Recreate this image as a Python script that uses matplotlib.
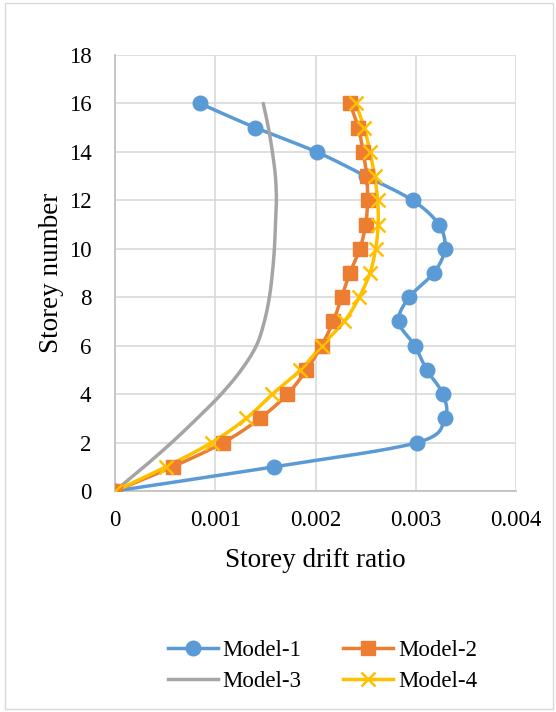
import numpy as np
import matplotlib.pyplot as plt
from matplotlib.lines import Line2D
from matplotlib.patches import Rectangle

storey = [0, 1, 2, 3, 4, 5, 6, 7, 8, 9, 10, 11, 12, 13, 14, 15, 16]

model1 = [0, 0.001585, 0.003014, 0.00329, 0.00327, 0.00311, 0.00299, 0.00283,
          0.002935, 0.00318, 0.00329, 0.00323, 0.002968, 0.0025, 0.00201,
          0.0014, 0.000847]
model2 = [0, 0.000575, 0.00108, 0.001446, 0.00172, 0.00191, 0.00206, 0.002177,
          0.00226, 0.002343, 0.002443, 0.0025, 0.00252, 0.00251, 0.002476,
          0.002426, 0.002343]
model3 = [0, 0.00029, 0.000565, 0.00082, 0.00106, 0.00126, 0.00141, 0.00149,
          0.00154, 0.00157, 0.00159, 0.0016, 0.00161, 0.0016, 0.00157,
          0.00153, 0.001479]
model4 = [0, 0.000508, 0.000964, 0.00131, 0.00157, 0.00185, 0.00206, 0.002287,
          0.002436, 0.002543, 0.0026, 0.002625, 0.00262, 0.00259, 0.002543,
          0.002486, 0.0024]

x_ticks = [0, 0.001, 0.002, 0.003, 0.004]
x_tick_labels = ["0", "0.001", "0.002", "0.003", "0.004"]
y_ticks = [0, 2, 4, 6, 8, 10, 12, 14, 16, 18]

names = ["Model-1", "Model-2", "Model-3", "Model-4"]
colors = ["#5B9BD5", "#ED7D31", "#A5A5A5", "#FFC000"]
markers = ["o", "s", None, "x"]

plt.rcParams['font.family'] = ['Liberation Serif', 'DejaVu Serif']


def smooth(xs, ys, n=30):
    # excel-like smoothed line: cubic bezier through points, catmull-rom tangents
    p = np.column_stack([xs, ys]).astype(float)
    m = len(p)
    out = []
    for i in range(m - 1):
        p0 = p[i - 1] if i > 0 else p[i]
        p1 = p[i]
        p2 = p[i + 1]
        p3 = p[i + 2] if i + 2 < m else p[i + 1]
        c1 = p1 + (p2 - p0) / 6.0
        c2 = p2 - (p3 - p1) / 6.0
        t = np.linspace(0, 1, n)[:, None]
        seg = ((1 - t) ** 3) * p1 + 3 * ((1 - t) ** 2) * t * c1 + \
              3 * (1 - t) * t ** 2 * c2 + t ** 3 * p2
        out.append(seg if i == 0 else seg[1:])
    out = np.vstack(out)
    return out[:, 0], out[:, 1]


SCALE = 4500  # x units -> roughly the same pixel scale as storeys
LW = 2.5

fig = plt.figure(figsize=(5.56, 7.12), dpi=100)
fig.patches.append(Rectangle((5 / 556, 3 / 712), 548 / 556, 706 / 712,
                             transform=fig.transFigure, fill=False,
                             edgecolor="#d9d9d9", linewidth=1))
ax = fig.add_axes([115 / 556, 1 - 491 / 712, 401 / 556, 436 / 712])

handles = {}
for data, name, col, mk in zip([model1, model2, model3, model4], names, colors, markers):
    sx, sy = smooth(np.array(data) * SCALE, storey)
    ax.plot(sx / SCALE, sy, color=col, linewidth=LW, solid_capstyle="round", zorder=3)
    mew = 1.8 if mk == "x" else 1
    if mk is not None:
        ax.plot(data, storey, linestyle="none", marker=mk, markersize=10.5,
                markeredgewidth=mew, color=col, markeredgecolor=col, zorder=4)
    handles[name] = Line2D([0], [0], color=col, linewidth=LW, marker=mk,
                           markersize=10.5, markeredgewidth=mew,
                           markeredgecolor=col, label=name)

ax.set_xlim(0, 0.004)
ax.set_ylim(0, 18)
ax.set_xticks(x_ticks)
ax.set_xticklabels(x_tick_labels)
ax.set_yticks(y_ticks)
ax.grid(True, color="#d9d9d9", linewidth=1.2)
ax.set_axisbelow(True)
for s in ["top", "right"]:
    ax.spines[s].set_visible(False)
for s in ["left", "bottom"]:
    ax.spines[s].set_color("#bfbfbf")
    ax.spines[s].set_linewidth(1.2)
ax.tick_params(length=0, labelsize=16.5, pad=14)
ax.tick_params(axis="y", pad=17)
ax.set_xlabel("Storey drift ratio", fontsize=19.5, labelpad=12)
ax.set_ylabel("Storey number", fontsize=19.5, labelpad=3)

# legend fills column-wise, so order gives rows: 1,2 / 3,4
order = ["Model-1", "Model-3", "Model-2", "Model-4"]
fig.legend(handles=[handles[k] for k in order], loc="center",
           bbox_to_anchor=(0.58, 1 - 666 / 712),
           ncol=2, frameon=False, fontsize=16.5, handlelength=2.2,
           handletextpad=0.2, columnspacing=1.8, labelspacing=0.45)

fig.savefig("out.png", dpi=100)
